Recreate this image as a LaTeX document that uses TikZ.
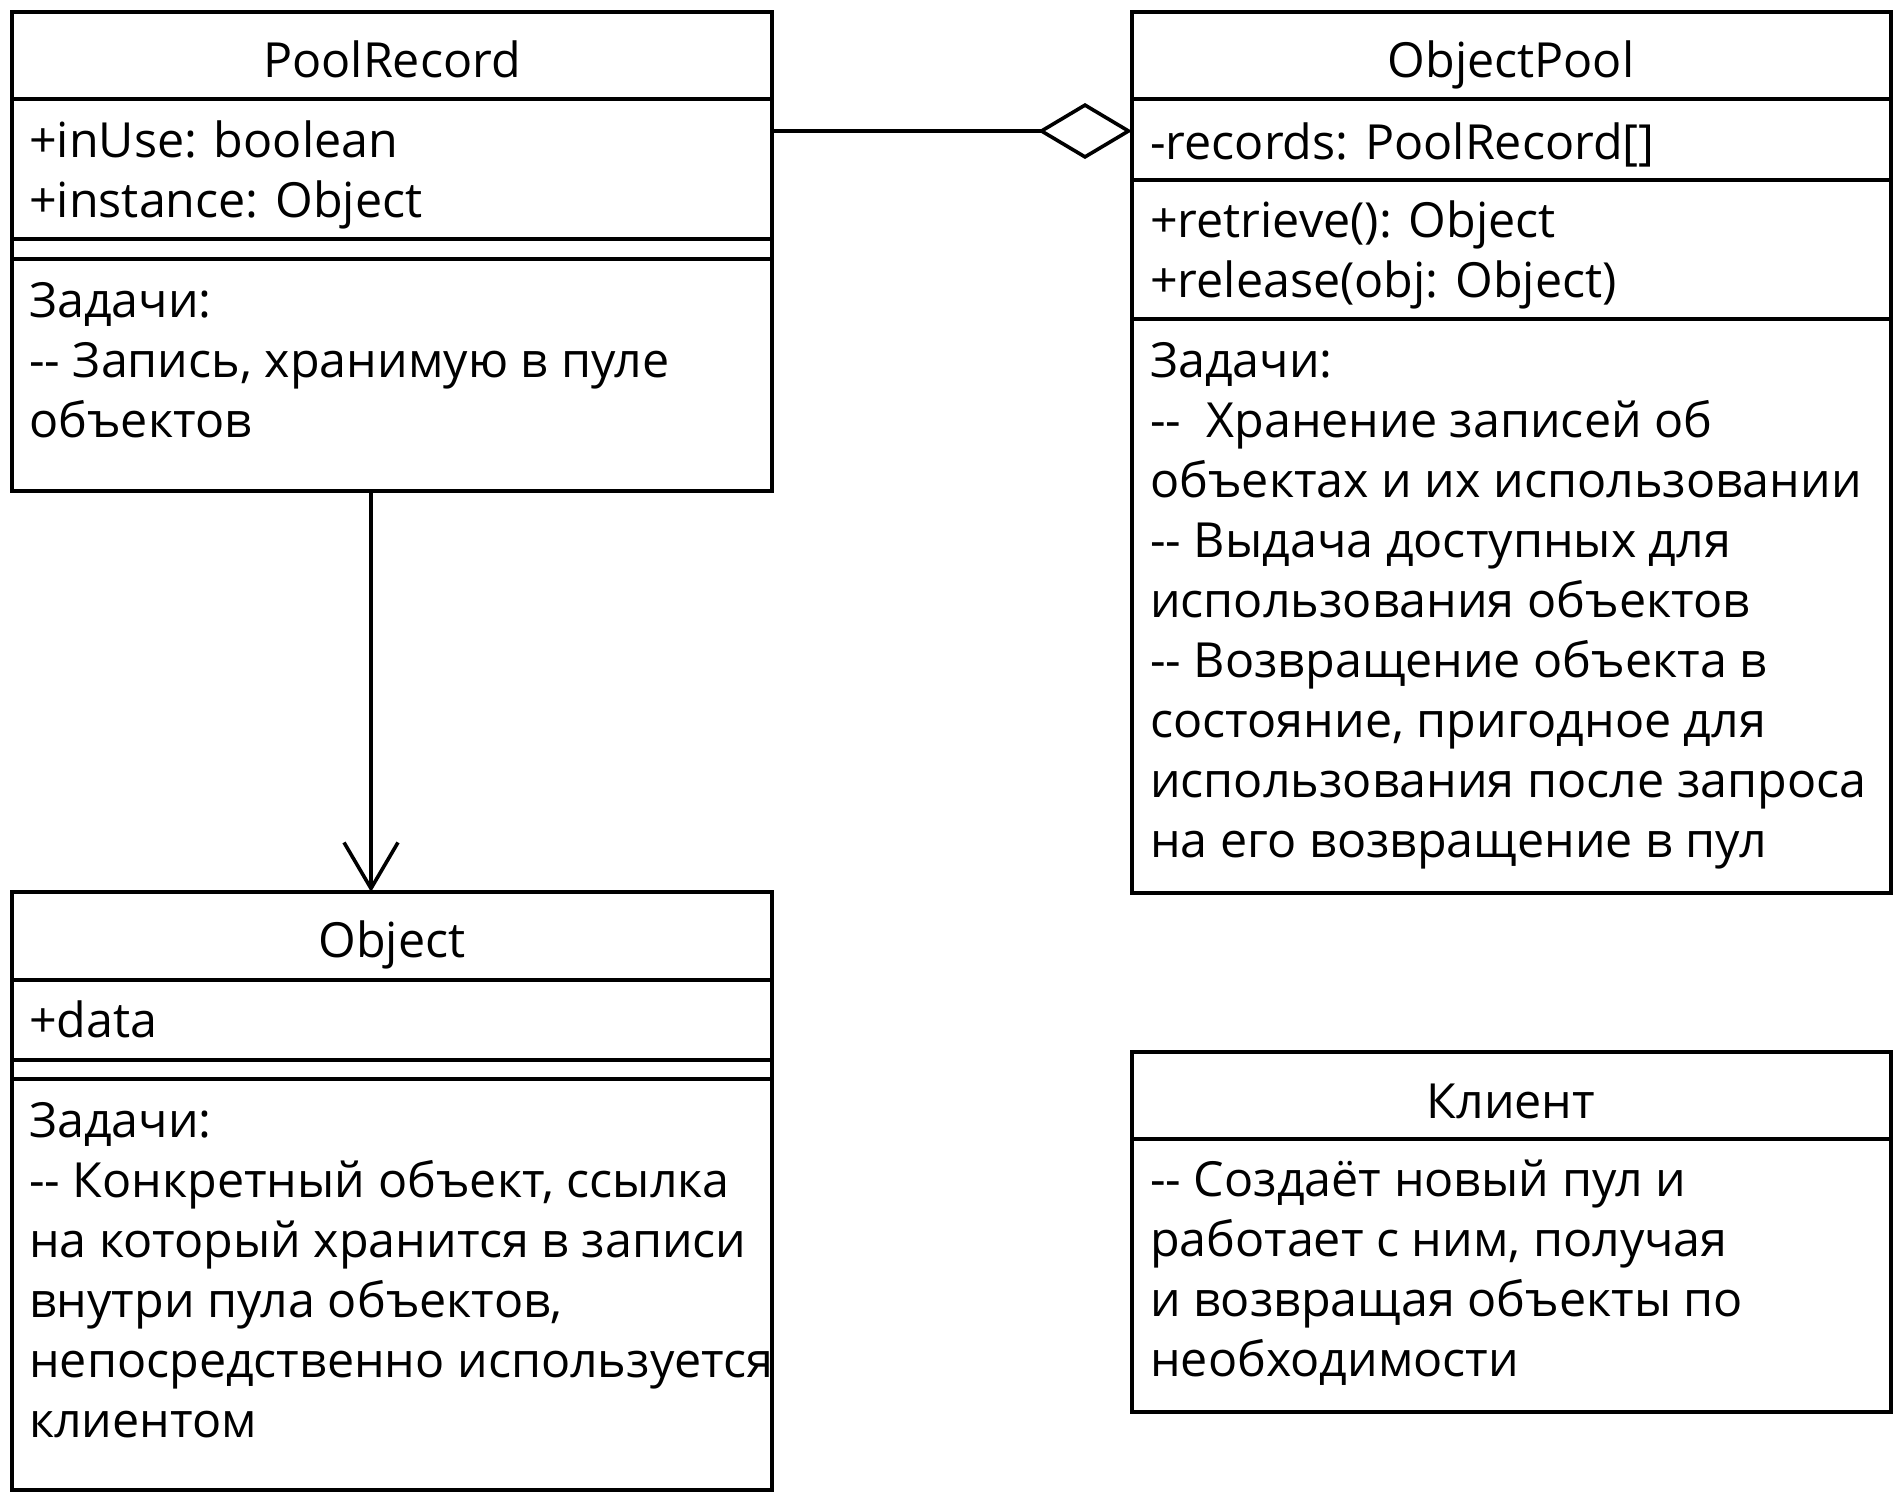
\documentclass[tikz,border=0pt]{standalone}
\usepackage{fontspec}
\setmainfont{Open Sans}
\usetikzlibrary{arrows.meta}
% two hyphens kept apart so they are not joined into a dash
\newcommand\twodash{-\kern0pt-}
\begin{document}
\begin{tikzpicture}[x=1pt,y=-1pt,
  umlbox/.style={draw, line width=3.6pt, inner sep=0pt, outer sep=0pt, anchor=north west},
  sepline/.style={line width=3.6pt},
  title/.style={anchor=base, inner sep=0pt, font=\fontsize{48.4}{60}\selectfont},
  % multi-line texts are placed by the baseline of their last line
  body/.style={anchor=base west, inner sep=0pt, align=left, font=\fontsize{48.4}{60}\selectfont},
  conn/.style={line width=3.6pt}]
\useasboundingbox (0,0) rectangle (1900,1500);

% class frames
\node[umlbox, minimum width=760pt, minimum height=479pt] (pr) at (12,12) {};
\node[umlbox, minimum width=759pt, minimum height=881pt] (op) at (1132,12) {};
\node[umlbox, minimum width=760pt, minimum height=598pt] (ob) at (12,892) {};
\node[umlbox, minimum width=759pt, minimum height=360pt] (cl) at (1132,1052) {};

% compartment separators
\foreach \yy in {99,239,259} \draw[sepline] (pr.west |- 0,\yy) -- (pr.east |- 0,\yy);
\foreach \yy in {99,180,319} \draw[sepline] (op.west |- 0,\yy) -- (op.east |- 0,\yy);
\foreach \yy in {980,1060,1079} \draw[sepline] (ob.west |- 0,\yy) -- (ob.east |- 0,\yy);
\draw[sepline] (cl.west |- 0,1139) -- (cl.east |- 0,1139);

% PoolRecord
\node[title] (prt) at (392,77) {PoolRecord};
\node[body] (pra) at (29,217) {+inUse: boolean\\+instance: Object};
\node[body] (prn) at (29,437) {Задачи:\\\twodash{} Запись, хранимую в пуле\\объектов};

% ObjectPool
\node[title] (opt) at (1511,77) {ObjectPool};
\node[body] (opa) at (1150,159) {-records: PoolRecord[]};
\node[body] (opm) at (1150,297) {+retrieve(): Object\\+release(obj: Object)};
\node[body] (opn) at (1150,857) {Задачи:\\\twodash\ \ Хранение записей об\\объектах и их использовании\\\twodash{} Выдача доступных для\\использования объектов\\\twodash{} Возвращение объекта в\\состояние, пригодное для\\использования после запроса\\на его возвращение в пул};

% Object
\node[title] (obt) at (392,957) {Object};
\node[body] (oba) at (29,1037) {+data};
\node[body] (obn) at (29,1437) {Задачи:\\\twodash{} Конкретный объект, ссылка\\на который хранится в записи\\внутри пула объектов,\\непосредственно используется\\клиентом};

% Client
\node[title] (clt) at (1511,1118) {Клиент};
\node[body] (cln) at (1150,1376) {\twodash{} Создаёт новый пул и\\работает с ним, получая\\и возвращая объекты по\\необходимости};

% relations
\coordinate (agg) at (0,131);
\coordinate (dep) at (371,0);
\draw[conn, -{Diamond[open, length=94pt, width=56pt]}] (pr.east |- agg) -- (op.west |- agg);
\draw[conn, -{Straight Barb[length=46pt, width=54pt]}] (pr.south -| dep) -- (ob.north -| dep);
\end{tikzpicture}
\end{document}
